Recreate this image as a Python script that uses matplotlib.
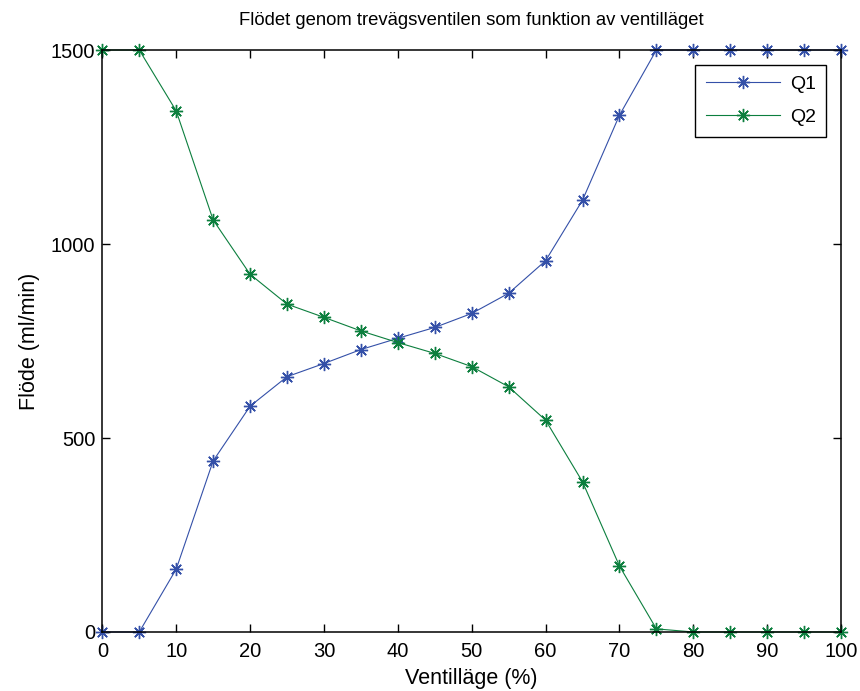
import matplotlib
matplotlib.use("Agg")
import matplotlib.pyplot as plt

ventillage = [0, 5, 10, 15, 20, 25, 30, 35, 40, 45, 50,
              55, 60, 65, 70, 75, 80, 85, 90, 95, 100]
q1 = [0, 0, 162, 441, 582, 658, 692, 728, 757, 785, 821,
      873, 957, 1113, 1332, 1500, 1500, 1500, 1500, 1500, 1500]
q2 = [1500, 1500, 1343, 1062, 922, 845, 811, 776, 746, 718, 684,
      632, 546, 387, 170, 8, 0, 0, 0, 0, 0]

BLUE = "#3450a8"
GREEN = "#0c7f3e"
STAR = (8, 2, 0)   # MATLAB-style asterisk (+ and x overlaid)

plt.rcParams["font.family"] = ["Liberation Sans", "DejaVu Sans"]

fig = plt.figure(figsize=(8.6, 6.91), dpi=100)
ax = fig.add_axes([0.119, 0.0854, 0.859, 0.8422])

ax.plot(ventillage, q1, color=BLUE, lw=0.8, marker=STAR, markersize=9.5,
        markeredgewidth=1.0, label="Q1", clip_on=False)
ax.plot(ventillage, q2, color=GREEN, lw=0.8, marker=STAR, markersize=9.5,
        markeredgewidth=1.0, label="Q2", clip_on=False)

ax.set_xlim(0, 100)
ax.set_ylim(0, 1500)
ax.set_xticks(range(0, 101, 10))
ax.set_yticks([0, 500, 1000, 1500])
ax.tick_params(direction="in", top=True, right=True, length=6, width=1,
               labelsize=14.5)
ax.tick_params(axis="x", pad=7)
ax.tick_params(axis="y", pad=5)
for s in ax.spines.values():
    s.set_linewidth(1.1)

ax.set_title("Flödet genom trevägsventilen som funktion av ventilläget",
             fontsize=13.3, pad=18)
ax.set_xlabel("Ventilläge (%)", fontsize=15.5, labelpad=5)
ax.set_ylabel("Flöde (ml/min)", fontsize=15.5, labelpad=8)

leg = ax.legend(loc="upper right", numpoints=1, fancybox=False,
                edgecolor="black", fontsize=14, handlelength=3.8,
                handletextpad=0.5, labelspacing=0.8, borderpad=0.55,
                borderaxespad=0.75, framealpha=1)
leg.get_frame().set_linewidth(1.0)

fig.savefig("out.png", dpi=100)
